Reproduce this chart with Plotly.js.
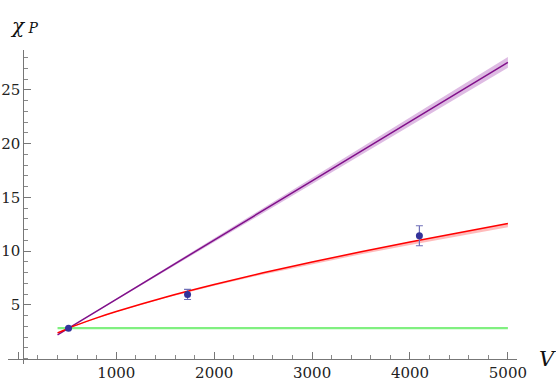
<!DOCTYPE html>
<html>
<head>
<meta charset="utf-8">
<script src="https://cdn.plot.ly/plotly-3.0.1.min.js"></script>
<style>body{margin:0}#plot{width:556px;height:383px}</style>
</head>
<body>
<div id="plot"></div>
<script>
// values
const pointV = [512, 1728, 4096]
const pointChi = [2.82, 5.96, 11.42]
const pointErr = [0.06, 0.47, 0.93]

const purpleV = [400, 512, 1000, 2000, 3000, 4000, 5000]
const purpleChi = [2.20, 2.82, 5.51, 11.02, 16.53, 22.04, 27.55]
const purpleLo = [2.19, 2.82, 5.46, 10.85, 16.26, 21.65, 27.05]
const purpleHi = [2.21, 2.82, 5.56, 11.19, 16.80, 22.43, 28.05]

const redV = [400, 512, 600, 800, 1000, 1500, 2000, 2500, 3000, 3500, 4000, 4500, 5000]
const redChi = [2.38, 2.82, 3.13, 3.78, 4.37, 5.70, 6.88, 7.97, 8.98, 9.93, 10.84, 11.71, 12.55]
const redLo = [2.36, 2.80, 3.10, 3.74, 4.32, 5.62, 6.77, 7.82, 8.79, 9.70, 10.57, 11.40, 12.20]
const redHi = [2.39, 2.83, 3.14, 3.79, 4.38, 5.71, 6.89, 7.98, 8.99, 9.94, 10.85, 11.72, 12.56]

const greenV = [400, 5000]
const greenChi = [2.82, 2.82]

const xTicks = [0, 1000, 2000, 3000, 4000, 5000]
const xTickText = ['', '1000', '2000', '3000', '4000', '5000']
const yTicks = [5, 10, 15, 20, 25]

const band = (xs, lo, hi, color) => ({
    x: [...xs, ...xs.slice().reverse()],
    y: [...hi, ...lo.slice().reverse()],
    fill: 'toself',
    fillcolor: color,
    line: { width: 0 },
    mode: 'lines',
    hoverinfo: 'skip'
})

const traces = [
    band(purpleV, purpleLo, purpleHi, 'rgba(190,120,200,0.5)'),
    band(redV, redLo, redHi, 'rgba(255,120,120,0.5)'),
    { x: greenV, y: greenChi, mode: 'lines', line: { color: '#80f080', width: 2.2 } },
    { x: purpleV, y: purpleChi, mode: 'lines', line: { color: '#80108a', width: 1.5 } },
    { x: redV, y: redChi, mode: 'lines', line: { color: '#ff0000', width: 1.5, shape: 'spline' } },
    {
        x: pointV, y: pointChi, mode: 'markers',
        marker: { color: '#33339a', size: 7 },
        error_y: { type: 'data', array: pointErr, color: '#6f6fb8', thickness: 1.2, width: 3.5 }
    }
]

// family set once on layout.font, the other fonts inherit it
const tickFont = { size: 15, color: '#222' }

Plotly.newPlot('plot', traces, {
    width: 556,
    height: 383,
    margin: { l: 8, r: 39, t: 50, b: 19 },
    showlegend: false,
    font: { family: 'DejaVu Serif', color: '#222' },
    plot_bgcolor: 'white',
    paper_bgcolor: 'white',
    xaxis: {
        range: [-106, 5093],
        anchor: 'free',
        position: 0.0175,
        showgrid: false,
        zeroline: false,
        showline: true,
        linecolor: '#777',
        linewidth: 1,
        tickmode: 'array',
        tickvals: xTicks,
        ticktext: xTickText,
        ticks: 'inside',
        ticklen: 7,
        tickcolor: '#777',
        tickfont: tickFont,
        minor: { tickmode: 'linear', tick0: 0, dtick: 200, ticks: 'inside', ticklen: 4, tickcolor: '#888' }
    },
    yaxis: {
        range: [-0.51, 28.7],
        anchor: 'free',
        position: 0.030,
        showgrid: false,
        zeroline: false,
        showline: true,
        linecolor: '#777',
        linewidth: 1,
        tickmode: 'array',
        tickvals: yTicks,
        ticks: 'inside',
        ticklen: 7,
        tickcolor: '#777',
        tickfont: tickFont,
        minor: { tickmode: 'linear', tick0: 0, dtick: 1, ticks: 'inside', ticklen: 4, tickcolor: '#888' }
    },
    annotations: [
        {
            xref: 'paper', yref: 'paper', x: 0.0, y: 1.075, xanchor: 'left', yanchor: 'middle',
            text: '<i>χ</i><span style="font-size:14px"> <i>P</i></span>',
            showarrow: false,
            font: { size: 20, color: '#111' }
        },
        {
            xref: 'paper', yref: 'paper', x: 1.04, y: 0.0175, xanchor: 'left', yanchor: 'middle',
            text: '<i>V</i>',
            showarrow: false,
            font: { size: 21, color: '#111' }
        }
    ]
}, { staticPlot: true })
</script>
</body>
</html>
